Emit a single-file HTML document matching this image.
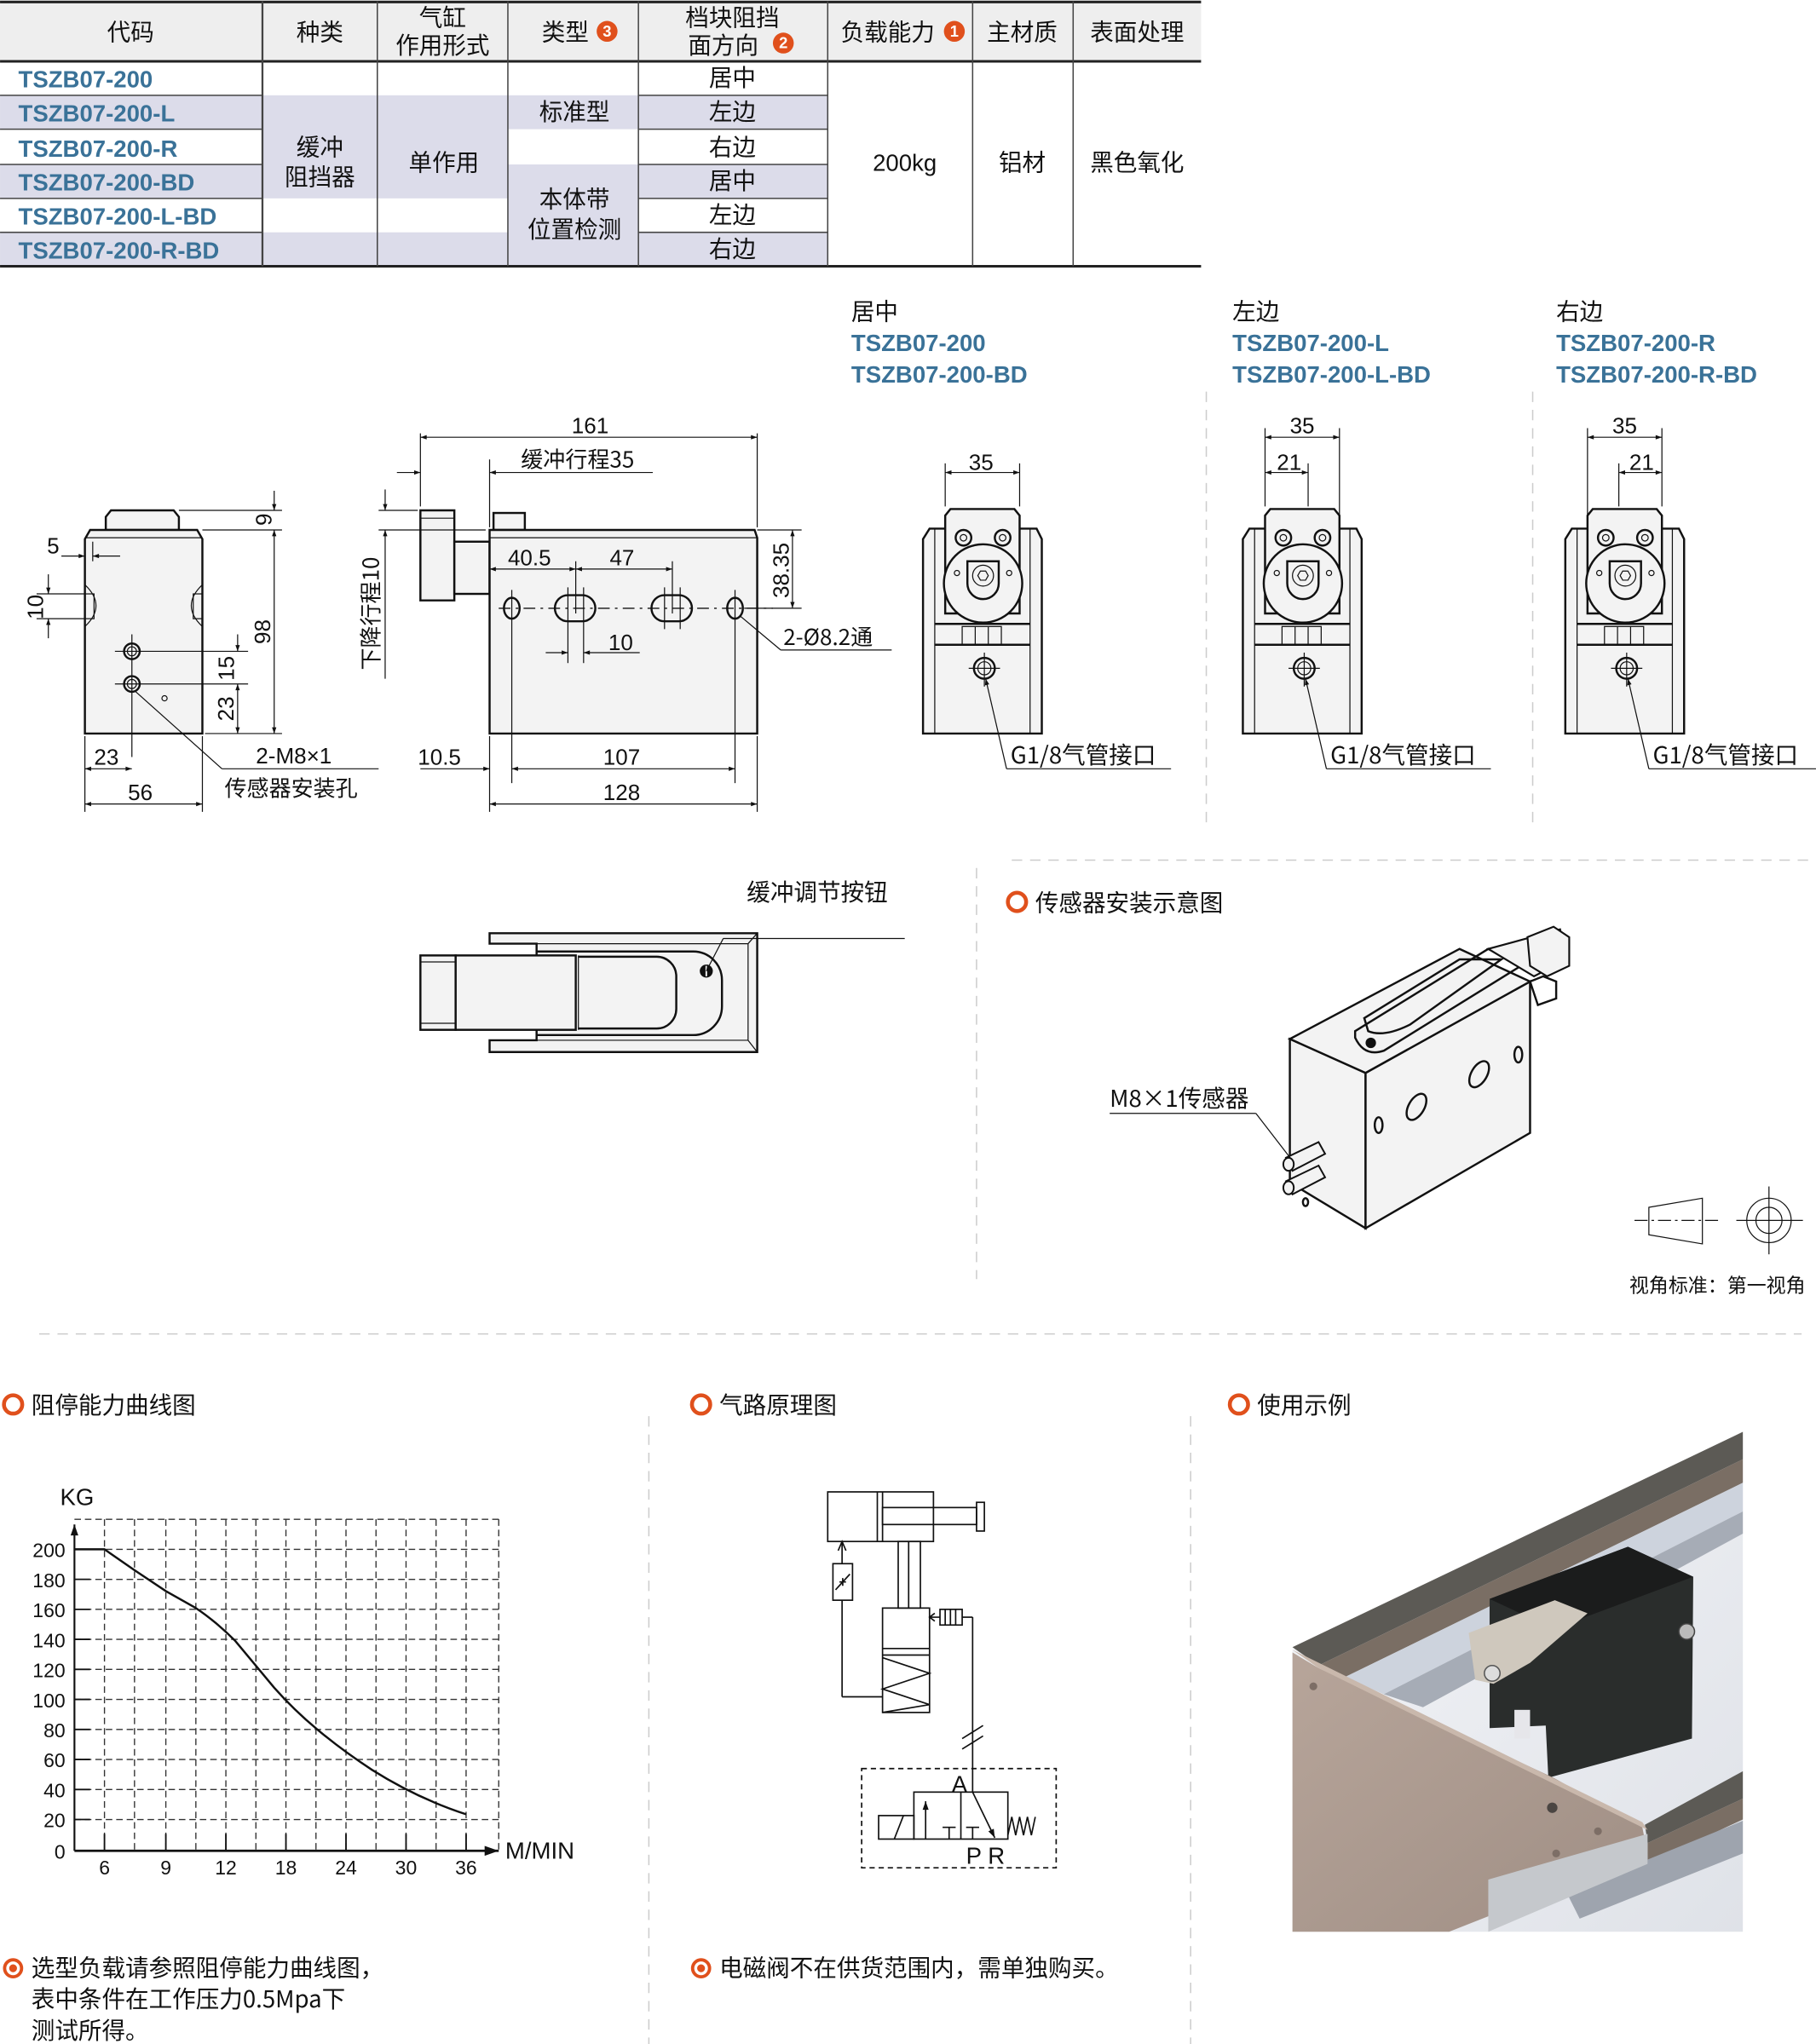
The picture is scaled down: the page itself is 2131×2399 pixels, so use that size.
<!DOCTYPE html>
<html><head><meta charset="utf-8"><style>
html,body{margin:0;padding:0;background:#fff;}
svg{display:block;}
text{font-family:"Liberation Sans","Noto Sans CJK SC",sans-serif;fill:#111;}
.cj{font-family:"Noto Sans CJK SC","Liberation Sans",sans-serif;}
text.code{font-family:"Liberation Sans",sans-serif;font-weight:bold;fill:#3a7298;}
.d{stroke:#111;stroke-width:0.8;fill:none;}
.o{stroke:#111;stroke-width:1.6;fill:#f3f3f3;}
.of{stroke:#111;stroke-width:1.6;fill:none;}
.g{stroke:#333;stroke-width:0.9;fill:none;stroke-dasharray:5 3;}
.sep{stroke:#ccc;stroke-width:1;stroke-dasharray:8 6;fill:none;}
</style></head><body>
<svg width="2131" height="2399" viewBox="0 0 1391 1566" xmlns="http://www.w3.org/2000/svg">
<defs>
<marker id="a" viewBox="0 0 10 10" refX="10" refY="5" markerWidth="9" markerHeight="6" orient="auto-start-reverse"><path d="M0,1.5L10,5L0,8.5z" fill="#111"/></marker>
</defs>
<rect width="1391" height="1566" fill="#fff"/>

<!-- ===== TABLE ===== -->
<rect x="0" y="1" width="920" height="46" fill="#eeeeee"/>
<rect x="0" y="73" width="201" height="26" fill="#dcdcea"/>
<rect x="0" y="126" width="201" height="26" fill="#dcdcea"/>
<rect x="0" y="178" width="201" height="26" fill="#dcdcea"/>
<rect x="201" y="73" width="188" height="79" fill="#dcdcea"/>
<rect x="201" y="178" width="188" height="26" fill="#dcdcea"/>
<rect x="389" y="73" width="100" height="26" fill="#dcdcea"/>
<rect x="389" y="126" width="100" height="78" fill="#dcdcea"/>
<rect x="489" y="73" width="145" height="26" fill="#dcdcea"/>
<rect x="489" y="126" width="145" height="26" fill="#dcdcea"/>
<rect x="489" y="178" width="145" height="26" fill="#dcdcea"/>
<line x1="0" y1="1.5" x2="920" y2="1.5" stroke="#222" stroke-width="2"/>
<line x1="0" y1="47" x2="920" y2="47" stroke="#222" stroke-width="2"/>
<line x1="0" y1="204" x2="920" y2="204" stroke="#222" stroke-width="2"/>
<g stroke="#444" stroke-width="1">
<line x1="201" y1="1" x2="201" y2="204" stroke-width="1.5"/>
<line x1="289" y1="1" x2="289" y2="204"/>
<line x1="389" y1="1" x2="389" y2="204"/>
<line x1="489" y1="1" x2="489" y2="204"/>
<line x1="634" y1="1" x2="634" y2="204"/>
<line x1="745" y1="1" x2="745" y2="204"/>
<line x1="822" y1="1" x2="822" y2="204"/>
<line x1="0" y1="73" x2="201" y2="73"/><line x1="0" y1="99" x2="201" y2="99"/>
<line x1="0" y1="126" x2="201" y2="126"/><line x1="0" y1="152" x2="201" y2="152"/>
<line x1="0" y1="178" x2="201" y2="178"/>
<line x1="489" y1="73" x2="634" y2="73"/><line x1="489" y1="99" x2="634" y2="99"/>
<line x1="489" y1="126" x2="634" y2="126"/><line x1="489" y1="152" x2="634" y2="152"/>
<line x1="489" y1="178" x2="634" y2="178"/>
</g>
<g font-size="18" text-anchor="middle">
<text class="cj" x="100" y="31">代码</text>
<text class="cj" x="245" y="31">种类</text>
<text class="cj" x="339" y="20">气缸</text><text class="cj" x="339" y="41">作用形式</text>
<text class="cj" x="433" y="31">类型</text>
<text class="cj" x="561" y="20">档块阻挡</text><text class="cj" x="554" y="41">面方向</text>
<text class="cj" x="680" y="31">负载能力</text>
<text class="cj" x="783" y="31">主材质</text>
<text class="cj" x="871" y="31">表面处理</text>
<text class="cj" x="561" y="66">居中</text><text class="cj" x="561" y="92">左边</text><text class="cj" x="561" y="119">右边</text>
<text class="cj" x="561" y="145">居中</text><text class="cj" x="561" y="171">左边</text><text class="cj" x="561" y="197">右边</text>
<text class="cj" x="440" y="92">标准型</text>
<text class="cj" x="440" y="159">本体带</text><text class="cj" x="440" y="182">位置检测</text>
<text class="cj" x="245" y="119">缓冲</text><text class="cj" x="245" y="142">阻挡器</text>
<text class="cj" x="340" y="131">单作用</text>
<text class="cj" x="783" y="131">铝材</text>
<text class="cj" x="871" y="131">黑色氧化</text>
<text x="693" y="131">200kg</text>
</g>
<g fill="#e0501c"><circle cx="465" cy="24" r="8"/><circle cx="600" cy="33" r="8"/><circle cx="731" cy="24" r="8"/></g>
<g font-size="12" font-weight="bold" text-anchor="middle"><text x="465" y="28" style="fill:#fff">3</text><text x="600" y="37" style="fill:#fff">2</text><text x="731" y="28" style="fill:#fff">1</text></g>
<g font-size="18">
<text class="code" x="14" y="67">TSZB07-200</text>
<text class="code" x="14" y="93">TSZB07-200-L</text>
<text class="code" x="14" y="120">TSZB07-200-R</text>
<text class="code" x="14" y="146">TSZB07-200-BD</text>
<text class="code" x="14" y="172">TSZB07-200-L-BD</text>
<text class="code" x="14" y="198">TSZB07-200-R-BD</text>
</g>

<!-- ===== LEFT VIEW ===== -->
<path class="o" d="M81,406 V396 L85,391 H133 L137,396 V406 Z"/>
<path class="o" d="M65,562 V413 L69,406 H151 L155,413 V562 Z"/>
<line class="d" x1="65" y1="412" x2="155" y2="412"/>
<path class="d" d="M65,448 Q82,464 65,480" /><rect x="65" y="455" width="7" height="19" class="d"/>
<path class="d" d="M155,448 Q138,464 155,480"/><rect x="148" y="455" width="7" height="19" class="d"/>
<circle cx="101" cy="499" r="6" class="of" stroke-width="1.2"/><circle cx="101" cy="499" r="3.5" class="d"/>
<circle cx="101" cy="524" r="6" class="of" stroke-width="1.2"/><circle cx="101" cy="524" r="3.5" class="d"/>
<circle cx="126" cy="535" r="2" class="d"/>
<line class="d" x1="101" y1="486" x2="101" y2="580"/>
<line class="d" x1="88" y1="499" x2="190" y2="499"/><line class="d" x1="88" y1="524" x2="190" y2="524"/>
<line class="d" x1="137" y1="391" x2="216" y2="391"/><line class="d" x1="155" y1="406" x2="216" y2="406"/>
<line class="d" x1="157" y1="562" x2="216" y2="562"/>
<line class="d" x1="210" y1="376" x2="210" y2="391" marker-end="url(#a)"/>
<line class="d" x1="210" y1="406" x2="210" y2="562" marker-start="url(#a)" marker-end="url(#a)"/>
<text x="208" y="398" font-size="17" transform="rotate(-90 208 398)" text-anchor="middle">9</text>
<text x="207" y="484" font-size="17" transform="rotate(-90 207 484)" text-anchor="middle">98</text>
<line class="d" x1="182" y1="486" x2="182" y2="499" marker-end="url(#a)"/>
<line class="d" x1="182" y1="524" x2="182" y2="562" marker-start="url(#a)" marker-end="url(#a)"/>
<text x="179" y="512" font-size="17" transform="rotate(-90 179 512)" text-anchor="middle">15</text>
<text x="179" y="543" font-size="17" transform="rotate(-90 179 543)" text-anchor="middle">23</text>
<line class="d" x1="47" y1="426" x2="65" y2="426" marker-end="url(#a)"/>
<line class="d" x1="92" y1="426" x2="71" y2="426" marker-end="url(#a)"/>
<line class="d" x1="71" y1="415" x2="71" y2="430"/>
<text x="36" y="424" font-size="17">5</text>
<line class="d" x1="28" y1="455" x2="65" y2="455"/><line class="d" x1="28" y1="474" x2="65" y2="474"/>
<line class="d" x1="37" y1="440" x2="37" y2="455" marker-end="url(#a)"/>
<line class="d" x1="37" y1="489" x2="37" y2="474" marker-end="url(#a)"/>
<text x="33" y="465" font-size="17" transform="rotate(-90 33 465)" text-anchor="middle">10</text>
<line class="d" x1="65" y1="564" x2="65" y2="622"/><line class="d" x1="155" y1="564" x2="155" y2="622"/>
<line class="d" x1="65" y1="589" x2="101" y2="589" marker-start="url(#a)" marker-end="url(#a)"/>
<text x="72" y="586" font-size="17">23</text>
<line class="d" x1="65" y1="616" x2="155" y2="616" marker-start="url(#a)" marker-end="url(#a)"/>
<text x="98" y="613" font-size="17">56</text>
<line class="d" x1="104" y1="530" x2="170" y2="589"/>
<line class="d" x1="170" y1="589" x2="290" y2="589"/>
<text x="196" y="585" font-size="17">2-M8×1</text>
<text x="172" y="610" font-size="17" class="cj">传感器安装孔</text>

<!-- ===== FRONT VIEW ===== -->
<path class="o" d="M322,391 H348 V460 H322 Z"/>
<line class="d" x1="322" y1="397" x2="348" y2="397"/>
<rect x="348" y="415" width="27" height="40" class="o"/>
<rect x="378" y="393" width="24" height="13" class="o" stroke-width="1"/>
<path class="o" d="M375,562 V406 H578 L580,412 V562 Z"/>
<line class="d" x1="375" y1="412" x2="580" y2="412"/>
<line x1="382" y1="466" x2="592" y2="466" stroke="#111" stroke-width="0.9" stroke-dasharray="9 4 2 4"/>
<ellipse cx="392" cy="466" rx="6" ry="8" class="of" stroke-width="1.2"/>
<ellipse cx="563" cy="466" rx="6" ry="8" class="of" stroke-width="1.2"/>
<rect x="425" y="456" width="31" height="20" rx="10" class="of" stroke-width="1.2"/>
<rect x="499" y="456" width="31" height="20" rx="10" class="of" stroke-width="1.2"/>
<g class="d"><line x1="435" y1="450" x2="435" y2="508"/><line x1="447" y1="450" x2="447" y2="508"/><line x1="441" y1="430" x2="441" y2="470"/>
<line x1="509" y1="450" x2="509" y2="482"/><line x1="521" y1="450" x2="521" y2="482"/><line x1="515" y1="430" x2="515" y2="470"/>
<line x1="392" y1="452" x2="392" y2="600"/><line x1="563" y1="452" x2="563" y2="600"/>
<line x1="322" y1="332" x2="322" y2="388"/><line x1="580" y1="332" x2="580" y2="404"/>
<line x1="375" y1="352" x2="375" y2="404"/><line x1="375" y1="564" x2="375" y2="622"/><line x1="580" y1="564" x2="580" y2="622"/>
<line x1="290" y1="391" x2="320" y2="391"/><line x1="290" y1="406" x2="372" y2="406"/>
<line x1="580" y1="406" x2="614" y2="406"/><line x1="570" y1="466" x2="614" y2="466"/>
</g>
<line class="d" x1="322" y1="335" x2="580" y2="335" marker-start="url(#a)" marker-end="url(#a)"/>
<text x="452" y="332" font-size="17" text-anchor="middle">161</text>
<line class="d" x1="304" y1="362" x2="322" y2="362" marker-end="url(#a)"/>
<line class="d" x1="500" y1="362" x2="375" y2="362" marker-end="url(#a)"/>
<text x="399" y="358" font-size="17" class="cj">缓冲行程35</text>
<line class="d" x1="295" y1="375" x2="295" y2="391" marker-end="url(#a)"/>
<line class="d" x1="295" y1="520" x2="295" y2="406" marker-end="url(#a)"/>
<text x="290" y="470" font-size="17" class="cj" transform="rotate(-90 290 470)" text-anchor="middle">下降行程10</text>
<line class="d" x1="375" y1="436" x2="441" y2="436" marker-start="url(#a)" marker-end="url(#a)"/>
<text x="389" y="433" font-size="17">40.5</text>
<line class="d" x1="441" y1="436" x2="515" y2="436" marker-start="url(#a)" marker-end="url(#a)"/>
<text x="467" y="433" font-size="17">47</text>
<line class="d" x1="418" y1="500" x2="435" y2="500" marker-end="url(#a)"/>
<line class="d" x1="490" y1="500" x2="447" y2="500" marker-end="url(#a)"/>
<text x="466" y="498" font-size="17">10</text>
<line class="d" x1="607" y1="406" x2="607" y2="466" marker-start="url(#a)" marker-end="url(#a)"/>
<text x="604" y="437" font-size="17" transform="rotate(-90 604 437)" text-anchor="middle">38.35</text>
<line class="d" x1="567" y1="472" x2="598" y2="498"/><line class="d" x1="598" y1="498" x2="683" y2="498"/>
<text x="600" y="494" font-size="17" class="cj">2-Ø8.2通</text>
<line class="d" x1="322" y1="589" x2="375" y2="589" marker-end="url(#a)"/>
<text x="320" y="586" font-size="17">10.5</text>
<line class="d" x1="392" y1="589" x2="563" y2="589" marker-start="url(#a)" marker-end="url(#a)"/>
<text x="462" y="586" font-size="17">107</text>
<line class="d" x1="375" y1="616" x2="580" y2="616" marker-start="url(#a)" marker-end="url(#a)"/>
<text x="462" y="613" font-size="17">128</text>

<!-- ===== END VIEWS ===== -->
<g id="ev">
<path class="o" d="M707,562 V413 L712,405 H794 L798,413 V562 Z"/>
<line class="d" x1="716" y1="405" x2="716" y2="562" stroke-width="1"/>
<line class="d" x1="789" y1="405" x2="789" y2="562" stroke-width="1"/>
<path class="o" d="M724,470 V395 L728,390 H777 L781,395 V470 Z"/>
<circle cx="753" cy="447" r="30" class="o" stroke-width="1.3"/>
<circle cx="738" cy="412" r="6" class="of" stroke-width="1.2"/><circle cx="738" cy="412" r="2.5" class="d"/>
<circle cx="768" cy="412" r="6" class="of" stroke-width="1.2"/><circle cx="768" cy="412" r="2.5" class="d"/>
<path class="of" stroke-width="1.3" d="M741,430 H765 V447 A12,12 0 0 1 741,447 Z"/>
<circle cx="753" cy="441" r="8" class="d"/><path class="d" d="M749,441 l2,-3.5 h4 l2,3.5 l-2,3.5 h-4z"/>
<circle cx="733" cy="439" r="2" class="d"/><circle cx="773" cy="439" r="2" class="d"/>
<line class="of" x1="716" y1="478" x2="789" y2="478" stroke-width="1.2"/>
<line class="of" x1="716" y1="494" x2="789" y2="494" stroke-width="1.4"/>
<rect x="737" y="480" width="30" height="14" class="d"/><line class="d" x1="747" y1="480" x2="747" y2="494"/><line class="d" x1="757" y1="480" x2="757" y2="494"/>
<circle cx="754" cy="512" r="8" class="of" stroke-width="1.2"/><circle cx="754" cy="512" r="5" class="d"/>
<line class="d" x1="742" y1="512" x2="766" y2="512"/><line class="d" x1="754" y1="500" x2="754" y2="526"/>
<line class="d" x1="755" y1="520" x2="771" y2="589" marker-start="url(#a)"/>
</g>
<line class="d" x1="771" y1="589" x2="897" y2="589"/>
<text x="774" y="585" font-size="18" class="cj">G1/8气管接口</text>
<line class="d" x1="724" y1="355" x2="724" y2="388"/><line class="d" x1="781" y1="355" x2="781" y2="388"/>
<line class="d" x1="724" y1="362" x2="781" y2="362" marker-start="url(#a)" marker-end="url(#a)"/>
<text x="742" y="360" font-size="17">35</text>

<use href="#ev" x="245"/>
<line class="d" x1="1016" y1="589" x2="1142" y2="589"/>
<text x="1019" y="585" font-size="18" class="cj">G1/8气管接口</text>
<line class="d" x1="969" y1="328" x2="969" y2="388"/><line class="d" x1="1026" y1="328" x2="1026" y2="404"/><line class="d" x1="1002" y1="355" x2="1002" y2="388"/>
<line class="d" x1="969" y1="335" x2="1026" y2="335" marker-start="url(#a)" marker-end="url(#a)"/>
<text x="988" y="332" font-size="17">35</text>
<line class="d" x1="969" y1="362" x2="1002" y2="362" marker-start="url(#a)" marker-end="url(#a)"/>
<text x="978" y="360" font-size="17">21</text>

<use href="#ev" x="492"/>
<line class="d" x1="1263" y1="589" x2="1391" y2="589"/>
<text x="1266" y="585" font-size="18" class="cj">G1/8气管接口</text>
<line class="d" x1="1216" y1="328" x2="1216" y2="404"/><line class="d" x1="1273" y1="328" x2="1273" y2="388"/><line class="d" x1="1240" y1="355" x2="1240" y2="388"/>
<line class="d" x1="1216" y1="335" x2="1273" y2="335" marker-start="url(#a)" marker-end="url(#a)"/>
<text x="1235" y="332" font-size="17">35</text>
<line class="d" x1="1240" y1="362" x2="1273" y2="362" marker-start="url(#a)" marker-end="url(#a)"/>
<text x="1248" y="360" font-size="17">21</text>

<g font-size="18">
<text x="652" y="245" class="cj">居中</text>
<text x="652" y="269" class="code">TSZB07-200</text>
<text x="652" y="293" class="code">TSZB07-200-BD</text>
<text x="944" y="245" class="cj">左边</text>
<text x="944" y="269" class="code">TSZB07-200-L</text>
<text x="944" y="293" class="code">TSZB07-200-L-BD</text>
<text x="1192" y="245" class="cj">右边</text>
<text x="1192" y="269" class="code">TSZB07-200-R</text>
<text x="1192" y="293" class="code">TSZB07-200-R-BD</text>
</g>

<!-- separators -->
<line class="sep" x1="924" y1="300" x2="924" y2="630"/>
<line class="sep" x1="1174" y1="300" x2="1174" y2="630"/>
<line class="sep" x1="775" y1="659" x2="1391" y2="659"/>
<line class="sep" x1="748" y1="665" x2="748" y2="980"/>
<line class="sep" x1="30" y1="1022" x2="1380" y2="1022"/>
<line class="sep" x1="497" y1="1085" x2="497" y2="1566"/>
<line class="sep" x1="912" y1="1085" x2="912" y2="1566"/>

<!-- ===== TOP VIEW ===== -->
<path class="o" d="M375,715 H580 V806 H375 V797 H411 V791 H411 V730 H411 V723 H375 Z"/>
<line class="d" x1="375" y1="723" x2="573" y2="723"/><line class="d" x1="375" y1="797" x2="573" y2="797"/>
<line class="d" x1="573" y1="723" x2="573" y2="797"/><line class="d" x1="573" y1="723" x2="580" y2="715"/><line class="d" x1="573" y1="797" x2="580" y2="806"/>
<path class="of" stroke-width="1.4" d="M411,729 H531 A22,22 0 0 1 553,751 V771 A22,22 0 0 1 531,793 H411"/>
<rect x="322" y="732" width="27" height="57" class="o"/>
<line class="d" x1="322" y1="737" x2="349" y2="737"/><line class="d" x1="322" y1="784" x2="349" y2="784"/>
<rect x="349" y="732" width="92" height="57" class="o"/>
<line class="d" x1="443" y1="732" x2="443" y2="789"/>
<path class="of" stroke-width="1.3" d="M443,733 H503 A15,15 0 0 1 518,748 V773 A15,15 0 0 1 503,788 H443"/>
<circle cx="541" cy="744" r="5" fill="#111"/><line x1="541" y1="740" x2="541" y2="748" stroke="#fff" stroke-width="1.2"/>
<line class="d" x1="541" y1="744" x2="554" y2="719" marker-start="url(#a)"/>
<line class="d" x1="554" y1="719" x2="693" y2="719"/>
<text x="572" y="690" font-size="18" class="cj">缓冲调节按钮</text>

<!-- ===== SENSOR ISO ===== -->
<circle cx="779" cy="691" r="7" fill="none" stroke="#e0501c" stroke-width="3"/>
<text x="793" y="698" font-size="18" class="cj">传感器安装示意图</text>
<polygon points="988,796 1046,822 1046,941 988,906" fill="#f3f3f3" stroke="#111" stroke-width="1.6"/>
<polygon points="1046,822 1172,752 1172,868 1046,941" fill="#f3f3f3" stroke="#111" stroke-width="1.6"/>
<polygon points="988,796 1046,822 1172,752 1118,727" fill="#f3f3f3" stroke="#111" stroke-width="1.6"/>
<path class="of" stroke-width="1.2" d="M1045,780 L1118,735 L1150,735 L1080,785 Q1060,795 1048,790 Z"/>
<path class="of" stroke-width="1.2" d="M1038,790 L1140,727 L1165,740 L1060,805 Q1045,810 1038,795 Z"/>
<circle cx="1050" cy="799" r="4" fill="#111"/>
<polygon points="1140,727 1195,712 1200,735 1175,748" fill="#f3f3f3" stroke="#111" stroke-width="1.4"/>
<polygon points="1170,718 1190,710 1202,718 1202,740 1185,748 1172,740" fill="#f3f3f3" stroke="#111" stroke-width="1.4"/>
<path class="of" stroke-width="1.2" d="M1172,752 L1182,748 L1192,752 L1192,765 L1178,770 Z"/>
<ellipse cx="1085" cy="848" rx="6" ry="11" transform="rotate(30 1085 848)" class="of" stroke-width="1.4"/>
<ellipse cx="1133" cy="823" rx="6" ry="11" transform="rotate(30 1133 823)" class="of" stroke-width="1.4"/>
<ellipse cx="1056" cy="862" rx="3" ry="6" class="of" stroke-width="1.2"/>
<ellipse cx="1163" cy="808" rx="3" ry="6" class="of" stroke-width="1.2"/>
<ellipse cx="1000" cy="921" rx="2" ry="3" class="of" stroke-width="1"/>
<g stroke="#111" stroke-width="1.3" fill="#f3f3f3">
<path d="M985,887 L1010,875 L1015,884 L990,897 Z"/><ellipse cx="987" cy="892" rx="4" ry="5"/>
<path d="M985,905 L1010,893 L1015,902 L990,915 Z"/><ellipse cx="987" cy="910" rx="4" ry="5"/>
</g>
<line class="d" x1="850" y1="853" x2="962" y2="853"/><line class="d" x1="962" y1="853" x2="989" y2="888"/>
<text x="850" y="848" font-size="18" class="cj">M8×1传感器</text>
<polygon points="1263,925 1304,918 1304,953 1263,946" class="d" stroke-width="1"/>
<line x1="1252" y1="935" x2="1316" y2="935" stroke="#111" stroke-width="0.8" stroke-dasharray="10 3 2 3"/>
<circle cx="1355" cy="935" r="17" class="d" stroke-width="1"/><circle cx="1355" cy="935" r="10" class="d" stroke-width="1"/>
<line class="d" x1="1330" y1="935" x2="1381" y2="935"/><line class="d" x1="1355" y1="909" x2="1355" y2="961"/>
<text x="1248" y="990" font-size="15" class="cj">视角标准：第一视角</text>

<!-- ===== CHART ===== -->
<circle cx="10" cy="1076" r="7" fill="none" stroke="#e0501c" stroke-width="3"/>
<text x="24" y="1083" font-size="18" class="cj">阻停能力曲线图</text>
<text x="46" y="1153" font-size="18">KG</text>
<g class="g">
<line x1="57" y1="1164" x2="382" y2="1164"/>
<line x1="57" y1="1187" x2="382" y2="1187"/><line x1="57" y1="1210" x2="382" y2="1210"/>
<line x1="57" y1="1233" x2="382" y2="1233"/><line x1="57" y1="1256" x2="382" y2="1256"/>
<line x1="57" y1="1279" x2="382" y2="1279"/><line x1="57" y1="1302" x2="382" y2="1302"/>
<line x1="57" y1="1325" x2="382" y2="1325"/><line x1="57" y1="1348" x2="382" y2="1348"/>
<line x1="57" y1="1371" x2="382" y2="1371"/><line x1="57" y1="1394" x2="382" y2="1394"/>
<line x1="80" y1="1164" x2="80" y2="1418"/><line x1="103" y1="1164" x2="103" y2="1418"/>
<line x1="127" y1="1164" x2="127" y2="1418"/><line x1="150" y1="1164" x2="150" y2="1418"/>
<line x1="173" y1="1164" x2="173" y2="1418"/><line x1="196" y1="1164" x2="196" y2="1418"/>
<line x1="219" y1="1164" x2="219" y2="1418"/><line x1="242" y1="1164" x2="242" y2="1418"/>
<line x1="265" y1="1164" x2="265" y2="1418"/><line x1="288" y1="1164" x2="288" y2="1418"/>
<line x1="311" y1="1164" x2="311" y2="1418"/><line x1="334" y1="1164" x2="334" y2="1418"/>
<line x1="357" y1="1164" x2="357" y2="1418"/><line x1="382" y1="1164" x2="382" y2="1418"/>
</g>
<line x1="57" y1="1418" x2="57" y2="1168" stroke="#111" stroke-width="1.4" marker-end="url(#a)"/>
<line x1="57" y1="1418" x2="382" y2="1418" stroke="#111" stroke-width="1.8" marker-end="url(#a)"/>
<g stroke="#111" stroke-width="1.2">
<line x1="57" y1="1187" x2="69" y2="1187"/><line x1="57" y1="1210" x2="69" y2="1210"/><line x1="57" y1="1233" x2="69" y2="1233"/>
<line x1="57" y1="1256" x2="69" y2="1256"/><line x1="57" y1="1279" x2="69" y2="1279"/><line x1="57" y1="1302" x2="69" y2="1302"/>
<line x1="57" y1="1325" x2="69" y2="1325"/><line x1="57" y1="1348" x2="69" y2="1348"/><line x1="57" y1="1371" x2="69" y2="1371"/>
<line x1="57" y1="1394" x2="69" y2="1394"/>
<line x1="80" y1="1418" x2="80" y2="1405"/><line x1="127" y1="1418" x2="127" y2="1405"/><line x1="173" y1="1418" x2="173" y2="1405"/>
<line x1="219" y1="1418" x2="219" y2="1405"/><line x1="265" y1="1418" x2="265" y2="1405"/><line x1="311" y1="1418" x2="311" y2="1405"/>
<line x1="357" y1="1418" x2="357" y2="1405"/>
</g>
<path d="M57,1187 H80 L103,1203 L127,1219 L150,1232 Q165,1242 180,1257 Q195,1275 210,1293 Q225,1310 243,1325 Q262,1341 285,1356 Q320,1378 357,1390" fill="none" stroke="#111" stroke-width="1.6"/>
<g font-size="15" text-anchor="end">
<text x="50" y="1193">200</text><text x="50" y="1216">180</text><text x="50" y="1239">160</text>
<text x="50" y="1262">140</text><text x="50" y="1285">120</text><text x="50" y="1308">100</text>
<text x="50" y="1331">80</text><text x="50" y="1354">60</text><text x="50" y="1377">40</text>
<text x="50" y="1400">20</text><text x="50" y="1424">0</text>
</g>
<g font-size="15" text-anchor="middle">
<text x="80" y="1436">6</text><text x="127" y="1436">9</text><text x="173" y="1436">12</text>
<text x="219" y="1436">18</text><text x="265" y="1436">24</text><text x="311" y="1436">30</text><text x="357" y="1436">36</text>
</g>
<text x="387" y="1424" font-size="18">M/MIN</text>
<circle cx="10" cy="1508" r="6.5" fill="none" stroke="#e0501c" stroke-width="2.5"/><circle cx="10" cy="1508" r="3" fill="#e0501c"/>
<g font-size="18"><text class="cj" x="24" y="1514">选型负载请参照阻停能力曲线图，</text>
<text class="cj" x="24" y="1538">表中条件在工作压力0.5Mpa下</text><text class="cj" x="24" y="1562">测试所得。</text></g>

<!-- ===== PNEUMATIC ===== -->
<circle cx="537" cy="1076" r="7" fill="none" stroke="#e0501c" stroke-width="3"/>
<text x="551" y="1083" font-size="18" class="cj">气路原理图</text>
<g stroke="#111" stroke-width="1.1" fill="none">
<rect x="634" y="1143" width="81" height="38"/>
<line x1="672" y1="1143" x2="672" y2="1181"/><line x1="676" y1="1143" x2="676" y2="1181"/>
<rect x="676" y="1155" width="72" height="13"/>
<rect x="748" y="1151" width="6" height="22"/>
<rect x="688" y="1181" width="17" height="51"/><line x1="696" y1="1181" x2="696" y2="1232"/>
<rect x="676" y="1232" width="36" height="80"/>
<line x1="676" y1="1263" x2="712" y2="1263"/>
<line x1="676" y1="1268" x2="712" y2="1268"/>
<path d="M676,1270 L712,1282 L676,1294 L712,1306 L676,1312"/>
<rect x="638" y="1198" width="15" height="28"/>
<path d="M640,1218 L651,1206 M643,1212 l5,0 M645.5,1209 v6"/>
<line x1="645" y1="1181" x2="645" y2="1198"/><line x1="645" y1="1226" x2="645" y2="1300"/><line x1="645" y1="1300" x2="676" y2="1300"/>
<path d="M642,1188 L645,1181 L648,1188"/>
<rect x="720" y="1233" width="17" height="12"/>
<line x1="724" y1="1233" x2="724" y2="1245"/><line x1="728" y1="1233" x2="728" y2="1245"/><line x1="732" y1="1233" x2="732" y2="1245"/>
<path d="M712,1239 H720 M716,1236 L712,1239 L716,1242"/>
<line x1="737" y1="1239" x2="745" y2="1239"/>
<line x1="745" y1="1239" x2="745" y2="1373"/>
<line x1="737" y1="1332" x2="753" y2="1322"/><line x1="737" y1="1340" x2="753" y2="1330"/>
<rect x="660" y="1355" width="149" height="76" stroke-dasharray="4 3"/>
<rect x="700" y="1373" width="72" height="36"/><line x1="736" y1="1373" x2="736" y2="1409"/>
<rect x="673" y="1391" width="27" height="18"/><line x1="685" y1="1409" x2="692" y2="1391"/>
<line x1="709" y1="1409" x2="709" y2="1380" marker-end="url(#a)"/>
<line x1="745" y1="1373" x2="762" y2="1408" marker-end="url(#a)"/>
<path d="M727,1409 V1400 M722,1400 H732 M745,1409 V1400 M740,1400 H750"/>
<path d="M772,1406 L775,1392 L778,1406 L781,1392 L784,1406 L787,1392 L790,1406 L793,1392"/>
</g>
<text x="729" y="1373" font-size="18">A</text>
<text x="740" y="1428" font-size="18">P R</text>
<circle cx="537" cy="1508" r="6.5" fill="none" stroke="#e0501c" stroke-width="2.5"/><circle cx="537" cy="1508" r="3" fill="#e0501c"/>
<text x="551" y="1514" font-size="18" class="cj">电磁阀不在供货范围内，需单独购买。</text>

<!-- ===== PHOTO ===== -->
<circle cx="949" cy="1076" r="7" fill="none" stroke="#e0501c" stroke-width="3"/>
<text x="963" y="1083" font-size="18" class="cj">使用示例</text>
<defs>
<linearGradient id="bg" x1="0" y1="0" x2="1" y2="1"><stop offset="0" stop-color="#f4f5f8"/><stop offset="1" stop-color="#dfe2e8"/></linearGradient>
<linearGradient id="pl" x1="0" y1="0" x2="1" y2="1"><stop offset="0" stop-color="#b7a59a"/><stop offset="1" stop-color="#9f8e84"/></linearGradient>
</defs>
<polygon points="990,1264 1335,1097 1335,1480 990,1480" fill="url(#bg)"/>
<polygon points="990,1262 1335,1097 1335,1118 1010,1276" fill="#5c5a55"/>
<polygon points="1010,1276 1335,1118 1335,1136 1030,1285" fill="#7a6e64"/>
<polygon points="1030,1285 1335,1136 1335,1158 1060,1298" fill="#cdd3dd"/>
<polygon points="1060,1298 1335,1158 1335,1175 1090,1308" fill="#a6acb6"/>
<polygon points="1260,1398 1335,1357 1335,1378 1262,1412" fill="#5c5a55"/>
<polygon points="1262,1412 1335,1378 1335,1394 1262,1428" fill="#7a6e64"/>
<polygon points="1200,1450 1335,1395 1335,1420 1210,1470" fill="#9ea4ae"/>
<polygon points="1141,1225 1247,1185 1297,1208 1296,1332 1186,1362 1184,1322 1141,1324" fill="#2a2d2c"/>
<polygon points="1141,1225 1247,1185 1297,1208 1190,1248" fill="#1b1c1c"/>
<polygon points="1125,1251 1191,1226 1216,1236 1172,1274 1144,1290 1130,1287" fill="#cfc8bd"/>
<circle cx="1143" cy="1282" r="6" fill="#ddd" stroke="#555"/>
<circle cx="1292" cy="1250" r="6" fill="#bbb" stroke="#444"/>
<rect x="1160" y="1310" width="12" height="22" fill="#e6e6ea"/>
<polygon points="990,1266 1010,1278 1190,1362 1258,1400 1262,1420 1110,1480 990,1480" fill="url(#pl)"/>
<polygon points="990,1264 1258,1396 1262,1402 1010,1278" fill="#c9b8ac"/>
<polygon points="1140,1440 1262,1405 1262,1428 1140,1480" fill="#c5c8cc"/>
<circle cx="1006" cy="1292" r="3" fill="#7d6e66"/><circle cx="1189" cy="1385" r="4" fill="#4b4542"/>
<circle cx="1224" cy="1403" r="3" fill="#7d6e66"/><circle cx="1192" cy="1420" r="3" fill="#7d6e66"/>
</svg>
</body></html>
